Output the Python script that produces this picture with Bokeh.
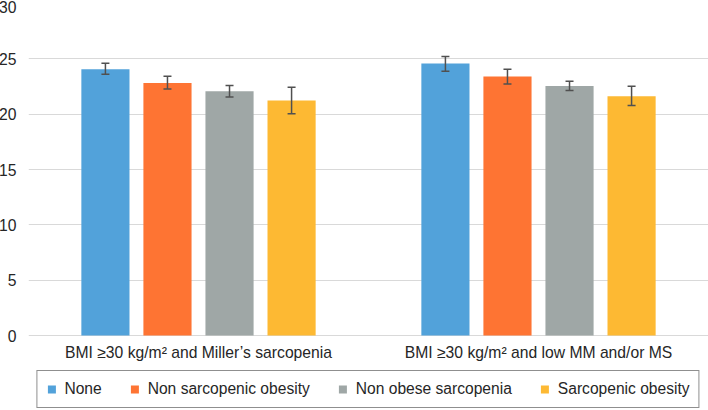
from bokeh.plotting import figure
from bokeh.models import ColumnDataSource, FactorRange, Whisker, Legend, LegendItem, FixedTicker, TeeHead
from bokeh.transform import dodge
from bokeh.core.properties import value
from bokeh.embed import file_html
from bokeh.resources import INLINE

groups = ["BMI \u226530 kg/m\u00b2 and Miller\u2019s sarcopenia", "BMI \u226530 kg/m\u00b2 and low MM and/or MS"]
series = ["None", "Non sarcopenic obesity", "Non obese sarcopenia", "Sarcopenic obesity"]

none_vals = [24.05, 24.57]
none_upper = [24.6, 25.2]
none_lower = [23.6, 23.87]

nso_vals = [22.82, 23.4]
nso_upper = [23.42, 24.05]
nso_lower = [22.28, 22.73]

nos_vals = [22.07, 22.55]
nos_upper = [22.58, 22.97]
nos_lower = [21.56, 22.13]

so_vals = [21.23, 21.62]
so_upper = [22.43, 22.52]
so_lower = [20.03, 20.78]

y_ticks = [0, 5, 10, 15, 20, 25, 30]

colors = ["#52A2DA", "#FE7433", "#9FA7A6", "#FDB933"]
data = [
    (none_vals, none_upper, none_lower),
    (nso_vals, nso_upper, nso_lower),
    (nos_vals, nos_upper, nos_lower),
    (so_vals, so_upper, so_lower),
]

FONT = "Liberation Sans"
TXT = "#262626"

# frame runs from 3px to the bottom of the page; value 0 sits at 335px, 30 at 3px
px_per_unit = 332 / 30.0
y_bottom = -75 / px_per_unit

p = figure(width=712, height=410, x_range=FactorRange(factors=groups), y_range=(y_bottom, 30),
           output_backend="svg", toolbar_location=None, x_axis_location=None,
           min_border_left=0, min_border_right=0, min_border_top=3, min_border_bottom=0)
p.margin = (0, 0, 0, -4)
p.outline_line_color = None
p.xgrid.grid_line_color = None
p.ygrid.grid_line_color = "#D9D9D9"
p.ygrid.grid_line_width = 1

p.yaxis.ticker = FixedTicker(ticks=y_ticks)
p.ygrid.ticker = FixedTicker(ticks=y_ticks)
p.yaxis.axis_line_color = None
p.yaxis.major_tick_line_color = None
p.yaxis.minor_tick_line_color = None
p.yaxis.major_label_standoff = 6
p.yaxis.major_label_text_font = FONT
p.yaxis.major_label_text_font_size = "15.7px"
p.yaxis.major_label_text_color = TXT

step = 0.1825
bw = 0.1416
items = []
for i, (vals, up, lo) in enumerate(data):
    src = ColumnDataSource(dict(x=groups, top=vals, upper=up, lower=lo))
    off = (i - 1.5) * step
    r = p.vbar(x=dodge("x", off, range=p.x_range), top="top", width=bw, source=src,
               fill_color=colors[i], line_color=None)
    w = Whisker(base=dodge("x", off, range=p.x_range), upper="upper", lower="lower", source=src,
                level="overlay", line_color="#505050", line_width=1.5,
                upper_head=TeeHead(size=8, line_color="#505050", line_width=1.5),
                lower_head=TeeHead(size=8, line_color="#505050", line_width=1.5))
    p.add_layout(w)
    items.append(LegendItem(label=series[i], renderers=[r]))

# category labels under the bars
p.text(x=groups, y=-17 / px_per_unit, text=groups, text_font=value(FONT),
       text_font_size="15.7px", text_color=TXT, text_align="center", text_baseline="middle")

legend = Legend(items=items, orientation="horizontal", location="bottom_center",
                glyph_width=10, glyph_height=10, label_standoff=8, spacing=28,
                padding=9, margin=2, label_height=15,
                label_text_font=FONT, label_text_font_size="15.6px", label_text_color=TXT,
                border_line_color="#202020", border_line_width=1.2,
                background_fill_color="white", background_fill_alpha=1)
p.add_layout(legend)

open("out.html", "w").write(file_html(p, INLINE))
